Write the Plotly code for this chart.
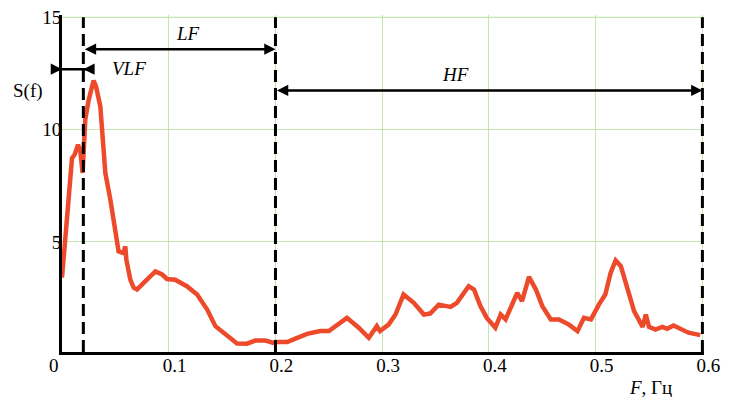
import plotly.graph_objects as go

# Spectrum data
freq = [0.0, 0.006, 0.0094, 0.0118, 0.015, 0.0172, 0.0193, 0.0218, 0.025, 0.0296, 0.0319,
        0.0359, 0.0406, 0.0453, 0.05, 0.053, 0.0575, 0.0593, 0.0603, 0.064, 0.0672, 0.0703,
        0.0765, 0.0875, 0.0938, 0.0984, 0.106, 0.117, 0.1266, 0.136, 0.1437, 0.1547, 0.164,
        0.1734, 0.181, 0.1906, 0.198, 0.2, 0.211, 0.217, 0.2296, 0.242, 0.25, 0.267, 0.278,
        0.2874, 0.295, 0.298, 0.306, 0.3125, 0.32, 0.3296, 0.339, 0.345, 0.353, 0.364, 0.37,
        0.381, 0.386, 0.392, 0.398, 0.406, 0.411, 0.4156, 0.4265, 0.431, 0.4375, 0.444, 0.45,
        0.458, 0.4656, 0.475, 0.483, 0.489, 0.4956, 0.503, 0.509, 0.514, 0.5187, 0.5236, 0.53,
        0.536, 0.544, 0.547, 0.55, 0.556, 0.5625, 0.567, 0.573, 0.579, 0.587, 0.598]
power = [3.41, 7.18, 8.73, 8.88, 9.32, 9.03, 8.07, 10.44, 11.32, 12.18, 11.92,
         11.03, 8.07, 6.88, 5.4, 4.58, 4.5, 4.8, 4.21, 3.32, 2.96, 2.88,
         3.18, 3.69, 3.55, 3.35, 3.32, 3.03, 2.66, 1.99, 1.25, 0.8, 0.48,
         0.47, 0.61, 0.61, 0.51, 0.54, 0.54, 0.66, 0.91, 1.03, 1.03, 1.62, 1.18,
         0.73, 1.25, 1.03, 1.32, 1.77, 2.66, 2.29, 1.77, 1.81, 2.21, 2.11, 2.29,
         3.03, 2.88, 2.14, 1.62, 1.18, 1.77, 1.55, 2.73, 2.36, 3.44, 2.88, 2.14,
         1.55, 1.55, 1.32, 1.03, 1.62, 1.55, 2.21, 2.66, 3.62, 4.18, 3.92, 2.88,
         1.92, 1.22, 1.77, 1.22, 1.10, 1.22, 1.13, 1.28, 1.13, 0.96, 0.85]

band_edges = [0.02, 0.2, 0.6]
x_ticks = [0, 0.1, 0.2, 0.3, 0.4, 0.5, 0.6]
NB = "\u00a0"
x_tick_text = ["0" + NB * 6, "0.1", "0.2", "0.3", "0.4", "0.5", "0.6"]
y_ticks = [5, 10, 15]
y_tick_text = ["5", "10", "15"]

FONT = "Liberation Serif, Times New Roman, serif"
GRID = "#c4e6b0"

fig = go.Figure()
fig.add_trace(go.Scatter(x=freq, y=power, mode="lines",
                         line=dict(color="#ec4a2a", width=4.5), showlegend=False,
                         hoverinfo="skip"))

shapes = [
    # top grid line at the 15 tick (plotly drops it at the plot edge)
    dict(type="line", xref="paper", yref="y", x0=0, x1=1, y0=y_ticks[-1], y1=y_ticks[-1],
         line=dict(color=GRID, width=1), layer="below"),
]
for xe in band_edges:
    shapes.append(dict(type="line", xref="x", yref="y", x0=xe, x1=xe, y0=0.1, y1=15,
                       line=dict(color="black", width=3, dash="12px,6px"), layer="above"))
# VLF dimension line
shapes.append(dict(type="line", xref="x", yref="y", x0=-0.0115, x1=0.0295, y0=12.69, y1=12.69,
                   line=dict(color="black", width=2.5), layer="above"))
fig.update_layout(shapes=shapes)

arrow_common = dict(showarrow=True, arrowhead=2, arrowsize=0.9, arrowwidth=2.5,
                    arrowcolor="black", text="", xref="x", yref="y", axref="x", ayref="y",
                    standoff=0, startstandoff=0)
lab = dict(showarrow=False, xanchor="center", yanchor="middle",
           font=dict(family=FONT, size=19, color="black"))
annotations = [
    dict(x=0.0, y=12.69, ax=-0.0115, ay=12.69, **arrow_common),
    dict(x=band_edges[0], y=12.69, ax=0.0295, ay=12.69, **arrow_common),
    dict(x=band_edges[1], y=13.58, ax=band_edges[0], ay=13.58, arrowside="end+start", **arrow_common),
    dict(x=band_edges[2], y=11.74, ax=band_edges[1], ay=11.74, arrowside="end+start", **arrow_common),
    dict(x=0.063, y=12.70, xref="x", yref="y", text="<i>VLF</i>", **lab),
    dict(x=0.118, y=14.28, xref="x", yref="y", text="<i>LF</i>", **lab),
    dict(x=0.3687, y=12.44, xref="x", yref="y", text="<i>HF</i>", **lab),
    dict(x=-0.053, y=11.72, xref="paper", yref="y", text="S(f)", **lab),
    dict(x=0.9165, y=-0.1068, xref="paper", yref="paper", text="<i>F</i>, Гц", **lab),
]
fig.update_layout(annotations=annotations)

fig.update_layout(
    template="none",
    width=724, height=389,
    margin=dict(l=54, r=28.4, t=6.8, b=45, autoexpand=False),
    paper_bgcolor="white", plot_bgcolor="white",
    font=dict(family=FONT, size=19, color="black"),
    xaxis=dict(range=[0, 0.6015], tickvals=x_ticks, ticktext=x_tick_text, showgrid=True,
               gridcolor=GRID, gridwidth=1, zeroline=False, showline=True, linecolor="black",
               linewidth=3, ticks="", ticklabelshift=6, ticklabelstandoff=-6,
               ticklabeloverflow="allow", automargin=False),
    yaxis=dict(range=[0.1, 15.1], tickvals=y_ticks, ticktext=y_tick_text, showgrid=True,
               gridcolor=GRID, gridwidth=1, zeroline=False, showline=True, linecolor="black",
               linewidth=3, ticks="", ticklabelstandoff=-6, ticklabeloverflow="allow",
               automargin=False),
)

fig.write_html("out.html")
